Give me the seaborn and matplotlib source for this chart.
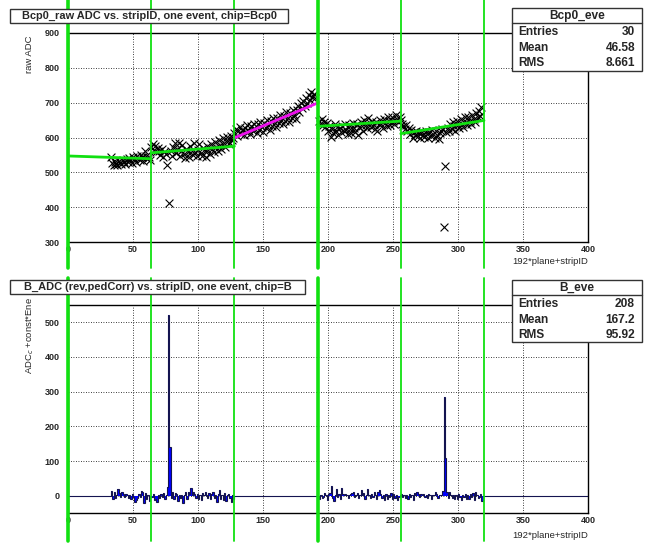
import numpy as np
import matplotlib
matplotlib.use("Agg")
import matplotlib.pyplot as plt
from matplotlib.patches import Rectangle
from matplotlib.ticker import MultipleLocator
import seaborn as sns

# ---- top pad: raw ADC per strip (one event) ----
top_strips_1 = np.arange(33, 64)
top_adc_1 = [545, 528, 522, 530, 525, 520, 532, 527, 524, 535,
             529, 523, 538, 531, 540, 534, 528, 545, 537, 530,
             548, 541, 535, 550, 543, 533, 560, 548, 538, 544,
             536]
top_strips_2 = np.arange(64, 77)
top_adc_2 = [572, 580, 565, 575, 558, 570, 562, 550, 566, 545, 558, 552, 522]
top_strips_3 = np.arange(78, 128)
top_adc_3 = [412, 560, 548, 572, 585, 556, 566, 583, 547, 560,
             578, 553, 541, 568, 557, 545, 576, 562, 550, 585,
             559, 548, 565, 580, 555, 547, 571, 560, 543, 575,
             564, 553, 582, 568, 557, 588, 574, 562, 593, 579,
             567, 598, 585, 573, 602, 590, 580, 605, 594, 600]
top_strips_4 = np.arange(128, 191)
top_adc_4 = [612, 625, 605, 618, 630, 610, 622, 606, 628, 615,
             635, 620, 610, 632, 618, 640, 625, 612, 638, 622,
             645, 630, 615, 642, 628, 650, 636, 622, 648, 634,
             657, 643, 630, 655, 641, 664, 650, 638, 662, 648,
             672, 657, 645, 670, 656, 680, 666, 652, 678, 690,
             674, 698, 684, 705, 690, 712, 700, 722, 708, 730,
             716, 725, 712]
top_strips_5 = np.arange(193, 257)
top_adc_5 = [648, 640, 652, 636, 645, 630, 642, 618, 634, 602,
             625, 612, 638, 620, 630, 608, 626, 615, 632, 619,
             640, 622, 610, 635, 624, 614, 642, 628, 617, 638,
             606, 630, 645, 633, 620, 650, 637, 628, 655, 641,
             630, 648, 636, 625, 645, 618, 640, 650, 638, 628,
             653, 642, 632, 658, 646, 636, 660, 648, 640, 664,
             652, 645, 660, 650]
top_strips_6 = np.arange(257, 319)
top_adc_6 = [640, 632, 625, 636, 618, 628, 610, 622, 600, 615,
             607, 620, 603, 612, 598, 617, 608, 602, 620, 610,
             598, 615, 605, 622, 609, 600, 618, 607, 595, 612,
             620, 625, 344, 517, 615, 628, 620, 638, 625, 645,
             632, 620, 648, 636, 626, 652, 640, 630, 658, 645,
             635, 660, 648, 640, 665, 652, 645, 670, 658, 675,
             662, 688]

# pedestal fits per chip (end points)
green_fit_x = [[0, 64], [64, 128], [192, 256], [256, 320]]
green_fit_y = [[547, 539], [556, 575], [632, 647], [611, 649]]
magenta_fit_x = [128, 192]
magenta_fit_y = [599, 699]

# ---- bottom pad: pedestal corrected ADC ----
bot_strips_1 = np.arange(33, 77)
bot_adc_1 = [15, -8, 12, -5, 3, 20, 8, -3, 10, 5,
             -2, 6, 2, -6, 4, -10, 7, -4, -18, -12,
             -6, 5, -3, 14, 10, -20, 8, -8, 3, -15,
             0, -4, 6, -12, -8, -16, 3, -5, 5, -3,
             8, -10, 4, 25]
bot_strips_2 = np.arange(77, 128)
bot_adc_2 = [520, 140, -5, 12, -10, 8, 5, -15, 3, -6,
             2, -20, 4, 10, -8, 12, 6, 22, 3, 10,
             6, -5, 7, -8, 4, -12, 8, 2, 10, 3,
             -6, 8, -10, 5, 10, -5, 4, -16, 6, 16,
             -8, 4, -12, 8, -14, 3, 5, -5, -18, 4,
             -10]
bot_strips_3 = np.arange(193, 257)
bot_adc_3 = [-8, 4, -6, -2, 8, 3, -12, 5, 8, 28,
             -6, -15, 3, 20, -4, 6, -8, 22, 5, 3,
             6, 2, -5, 3, 6, 8, 12, -3, 4, 8,
             -6, 2, 18, 4, 8, -10, 3, 20, 4, -6,
             5, -3, 10, 2, -8, 12, 18, 5, -6, 3,
             -12, 6, -8, 2, -4, 8, -10, 5, -6, 3,
             -12, -4, 4, 5]
bot_strips_4 = np.arange(257, 319)
bot_adc_4 = [-3, 4, -6, 2, -10, 6, -4, 2, -12, 8,
             3, 10, 5, -2, 6, 3, 7, -4, 4, -6,
             6, 3, -8, 4, 2, 10, 5, -5, 4, 3,
             3, 15, 285, 110, 12, -6, 10, 3, -5, 4,
             -10, 2, -8, 6, -4, -12, 4, -3, 6, -8,
             2, -10, 5, -3, 8, -12, 12, 4, -6, -2,
             5, -14]

chip_bounds_thick = [0, 192]
chip_bounds_thin = [64, 128, 256, 320]

titles = ["Bcp0_raw ADC vs. stripID, one event, chip=Bcp0",
          "B_ADC (rev,pedCorr) vs. stripID, one event, chip=B"]
stat_names = ["Bcp0_eve", "B_eve"]
stat_labels = ["Entries", "Mean", "RMS"]
stat_values_top = ["30", "46.58", "8.661"]
stat_values_bot = ["208", "167.2", "95.92"]

sns.set_style("white")
plt.rcParams['font.family'] = ['Liberation Sans', 'DejaVu Sans']

W, H = 659, 545
fig = plt.figure(figsize=(W / 100, H / 100), dpi=100)


def fx(px):
    return px / W


def fy(py):
    return 1 - py / H


green = '#11e011'


def style_axes(ax):
    ax.set_xlim(0, 400)
    ax.xaxis.set_major_locator(MultipleLocator(50))
    ax.xaxis.set_minor_locator(MultipleLocator(10))
    ax.tick_params(axis='x', which='major', direction='in', length=4, width=0.8, pad=2, labelsize=6.5)
    ax.tick_params(axis='x', which='minor', direction='in', length=2.5, width=0.8)
    ax.tick_params(axis='y', which='major', direction='in', length=7, width=0.8, pad=6, labelsize=6.5)
    ax.tick_params(axis='y', which='minor', direction='in', length=5, width=0.8)
    for lab in ax.get_xticklabels() + ax.get_yticklabels():
        lab.set_fontweight('bold')
    ax.grid(True, which='major', color='black', linestyle=(0, (1, 2)), linewidth=0.6)
    for sp in ax.spines.values():
        sp.set_color('black')
        sp.set_linewidth(1.0)
    ax.set_xlabel('')
    ax.set_ylabel('')


def chip_lines(ax, y0, y1):
    tr = ax.get_xaxis_transform()
    for x in chip_bounds_thick:
        ax.plot([x, x], [y0, y1], transform=tr, color=green, lw=2.6, clip_on=False, zorder=5)
    for x in chip_bounds_thin:
        ax.plot([x, x], [y0, y1], transform=tr, color=green, lw=1.3, clip_on=False, zorder=5)


def title_box(x0, x1, y0, y1, text):
    fig.patches.append(Rectangle((fx(x0), fy(y1)), fx(x1) - fx(x0), fy(y0) - fy(y1),
                                 transform=fig.transFigure, facecolor='white',
                                 edgecolor='#333333', lw=1.0, zorder=10))
    fig.text(fx((x0 + x1) / 2), fy((y0 + y1) / 2), text, ha='center', va='center',
             fontsize=7.9, fontweight='bold', zorder=11)


def stats_box(y0, ydiv, y1, rows_y, name, values):
    x0, x1 = 512, 642
    fig.patches.append(Rectangle((fx(x0), fy(y1)), fx(x1) - fx(x0), fy(y0) - fy(y1),
                                 transform=fig.transFigure, facecolor='white',
                                 edgecolor='#333333', lw=1.0, zorder=10))
    fig.lines.append(plt.Line2D([fx(x0), fx(x1)], [fy(ydiv), fy(ydiv)],
                                transform=fig.transFigure, color='#333333', lw=1.0, zorder=11))
    fig.text(fx((x0 + x1) / 2), fy((y0 + ydiv) / 2), name, ha='center', va='center',
             fontsize=8.6, fontweight='semibold', zorder=12)
    for lab, val, ry in zip(stat_labels, values, rows_y):
        fig.text(fx(x0 + 6), fy(ry), lab, ha='left', va='center', fontsize=8.6,
                 fontweight='semibold', zorder=12)
        fig.text(fx(x1 - 7), fy(ry), val, ha='right', va='center', fontsize=8.6,
                 fontweight='semibold', zorder=12)


# ---------------- top pad ----------------
ax1 = fig.add_axes([fx(68), fy(242), fx(588) - fx(68), fy(33) - fy(242)])
strips_top = np.concatenate([top_strips_1, top_strips_2, top_strips_3,
                             top_strips_4, top_strips_5, top_strips_6])
adc_top = np.concatenate([top_adc_1, top_adc_2, top_adc_3, top_adc_4, top_adc_5, top_adc_6])
sns.scatterplot(x=strips_top, y=adc_top, ax=ax1, marker='x', color='black',
                s=32, linewidth=0.8, legend=False, zorder=3)
for xs, ys in zip(green_fit_x, green_fit_y):
    ax1.plot(xs, ys, color=green, lw=2.0, zorder=4)
ax1.plot(magenta_fit_x, magenta_fit_y, color='#ee11ee', lw=2.0, zorder=4)
ax1.set_ylim(300, 900)
ax1.yaxis.set_major_locator(MultipleLocator(100))
ax1.yaxis.set_minor_locator(MultipleLocator(20))
style_axes(ax1)
chip_lines(ax1, -0.124, 1.158)

# ---------------- bottom pad ----------------
ax2 = fig.add_axes([fx(68), fy(513), fx(588) - fx(68), fy(305) - fy(513)])
strips_bot = np.concatenate([bot_strips_1, bot_strips_2, bot_strips_3, bot_strips_4])
adc_bot = np.concatenate([bot_adc_1, bot_adc_2, bot_adc_3, bot_adc_4])
ax2.bar(strips_bot, adc_bot, width=1.0, align='edge', color='#0000ff', linewidth=0, zorder=3)
full = np.zeros(400)
full[strips_bot] = adc_bot
ax2.stairs(full, np.arange(401), color='#141450', lw=0.8, zorder=4)
ax2.set_ylim(-49, 549)
ax2.yaxis.set_major_locator(MultipleLocator(100))
ax2.yaxis.set_minor_locator(MultipleLocator(20))
style_axes(ax2)
chip_lines(ax2, -0.135, 1.13)

# ---------------- labels / boxes ----------------
fig.text(fx(30), fy(35), 'raw ADC', rotation=90, ha='center', va='top', fontsize=6.8)
fig.text(fx(30), fy(297), 'ADC$_{c}$ +const*Ene', rotation=90, ha='center', va='top', fontsize=6.8)
fig.text(fx(588), fy(262), '192*plane+stripID', ha='right', va='center', fontsize=6.8)
fig.text(fx(588), fy(535), '192*plane+stripID', ha='right', va='center', fontsize=6.8)

title_box(10, 288, 9, 23, titles[0])
title_box(10, 305, 280, 294, titles[1])
stats_box(8, 23, 71, [32, 48, 63], stat_names[0], stat_values_top)
stats_box(280, 295, 342, [304, 320, 335], stat_names[1], stat_values_bot)

fig.savefig('out.png', dpi=100, facecolor='white')
